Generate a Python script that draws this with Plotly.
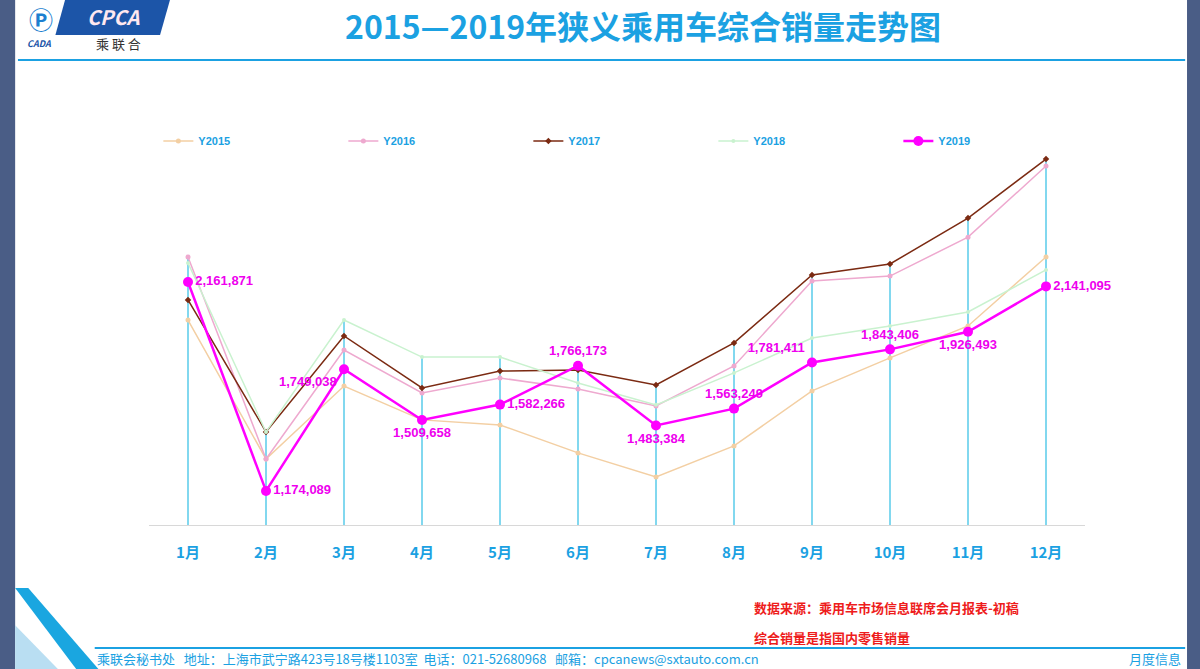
import plotly.graph_objects as go

# data
MONTHS = ['1月', '2月', '3月', '4月', '5月', '6月', '7月', '8月', '9月', '10月', '11月', '12月']
Y2015 = [1982000, 1325000, 1670000, 1510000, 1486000, 1354000, 1240000, 1387000, 1647000, 1803000, 1954000, 2280000]
Y2016 = [2280000, 1325000, 1840000, 1637000, 1708000, 1656000, 1576000, 1765000, 2167000, 2190000, 2374000, 2710000]
Y2017 = [2077000, 1453000, 1907000, 1661000, 1741000, 1746000, 1675000, 1874000, 2195000, 2247000, 2464000, 2743000]
Y2018 = [2252000, 1453000, 1982000, 1807000, 1807000, 1684000, 1581000, 1732000, 1897000, 1954000, 2020000, 2219000]
Y2019 = [2161871, 1174089, 1749038, 1509658, 1582266, 1766173, 1483384, 1563249, 1781411, 1843406, 1926493, 2141095]

Y_MIN = 1013000
Y_MAX = 2786000

CJK = 'Noto Sans CJK SC'
LATIN = 'Liberation Sans'
CYAN = '#1ba1e2'

fig = go.Figure()

# vertical drop lines from the axis up to the highest point of each month
dropX, dropY = [], []
for i, m in enumerate(MONTHS):
    top = max(Y2015[i], Y2016[i], Y2017[i], Y2018[i], Y2019[i])
    dropX += [m, m, None]
    dropY += [Y_MIN, top, None]
fig.add_trace(go.Scatter(x=dropX, y=dropY, mode='lines', showlegend=False,
                         line=dict(color='#3fc3e6', width=1.3), hoverinfo='skip'))

series = [
    ('Y2015', Y2015, '#f3cfa3', 'circle', 5, 1.5),
    ('Y2016', Y2016, '#eea9cf', 'circle', 5, 1.5),
    ('Y2017', Y2017, '#7b2a12', 'diamond', 5, 1.5),
    ('Y2018', Y2018, '#c9f2cf', 'circle', 4, 1.5),
]
for name, vals, color, sym, size, w in series:
    fig.add_trace(go.Scatter(x=MONTHS, y=vals, name=name, mode='lines+markers',
                             line=dict(color=color, width=w),
                             marker=dict(color=color, size=size, symbol=sym)))

labelPos = ['middle right', 'middle right', 'bottom left', 'bottom center', 'middle right', 'top center',
            'bottom center', 'top center', 'top left', 'top center', 'bottom center', 'middle right']
fig.add_trace(go.Scatter(x=MONTHS, y=Y2019, name='Y2019', mode='lines+markers+text',
                         line=dict(color='#ff00ff', width=2.5),
                         marker=dict(color='#ff00ff', size=10),
                         text=[f'{v:,}' for v in Y2019], textposition=labelPos, cliponaxis=False,
                         textfont=dict(color='#ee00ee', size=13, family=LATIN, weight='bold')))

fig.update_layout(
    width=1200, height=669,
    margin=dict(l=149, r=115, t=150, b=144, autoexpand=False),
    paper_bgcolor='white', plot_bgcolor='white',
    xaxis=dict(type='category', range=[-0.5, 11.5], showgrid=False, showline=True,
               linecolor='#d8d8d8', ticks='outside', ticklen=14, tickcolor='rgba(0,0,0,0)',
               tickfont=dict(color=CYAN, size=15, family=CJK, weight='bold')),
    yaxis=dict(range=[Y_MIN, Y_MAX], visible=False),
    legend=dict(orientation='h', x=0.01, xanchor='left', y=1.024, yanchor='middle',
                entrywidth=140, font=dict(color=CYAN, size=11, family=LATIN, weight='bold'),
                bgcolor='rgba(0,0,0,0)'),
    showlegend=True,
)


def note(x, y, text, color, size, anchor='center', weight='normal'):
    fig.add_annotation(xref='paper', yref='paper', x=x, y=y, xanchor=anchor, yanchor='middle',
                       text=text, showarrow=False,
                       font=dict(color=color, size=size, family=CJK, weight=weight))


# page decoration: side bars, title rule, footer rule
fig.add_shape(type='rect', xref='paper', yref='paper', x0=-0.16, x1=-0.143, y0=-0.39, y1=1.41,
              fillcolor='#4a5d86', line_width=0, layer='below')
fig.add_shape(type='rect', xref='paper', yref='paper', x0=1.109, x1=1.125, y0=-0.39, y1=1.41,
              fillcolor='#4a5d86', line_width=0, layer='below')
fig.add_shape(type='line', xref='paper', yref='paper', x0=-0.14, x1=1.107, y0=1.24, y1=1.24,
              line=dict(color=CYAN, width=2))
fig.add_shape(type='line', xref='paper', yref='paper', x0=-0.058, x1=1.107, y0=-0.328, y1=-0.328,
              line=dict(color=CYAN, width=2))
# bottom-left stripes
fig.add_shape(type='path', xref='paper', yref='paper',
              path='M -0.143 -0.168 L -0.129 -0.168 L -0.052 -0.39 L -0.076 -0.39 Z',
              fillcolor='#1aa6e0', line_width=0)
fig.add_shape(type='path', xref='paper', yref='paper',
              path='M -0.143 -0.267 L -0.143 -0.39 L -0.095 -0.39 Z',
              fillcolor='#b9def2', line_width=0)
# logo
fig.add_shape(type='path', xref='paper', yref='paper',
              path='M -0.0897 1.4 L 0.0224 1.4 L 0.0118 1.307 L -0.100 1.307 Z',
              fillcolor='#1c55a8', line_width=0)
note(-0.038, 1.357, '<i><b>CPCA</b></i>', '#ffe8f0', 20)
note(-0.033, 1.283, '乘 联 合', '#333333', 13)
note(-0.115, 1.35, '<b>Ⓟ</b>', '#1c7fd0', 24)
note(-0.118, 1.285, '<i><b>CADA</b></i>', '#1c55a8', 9)

# title
note(0.528, 1.333, '2015—2019年狭义乘用车综合销量走势图', CYAN, 32, weight='bold')
# notes
note(0.644, -0.221, '数据来源：乘用车市场信息联席会月报表-初稿', '#ee1c1c', 13, 'left', 'bold')
note(0.644, -0.299, '综合销量是指国内零售销量', '#ee1c1c', 13, 'left', 'bold')
# footer
note(-0.058, -0.355, '乘联会秘书处   地址：上海市武宁路423号18号楼1103室  电话：021-52680968   邮箱：cpcanews@sxtauto.com.cn',
     CYAN, 13, 'left')
note(1.105, -0.355, '月度信息', CYAN, 13, 'right')

fig.write_html('out.html', config={'displayModeBar': False},
               post_script="document.body.style.margin='0';")
